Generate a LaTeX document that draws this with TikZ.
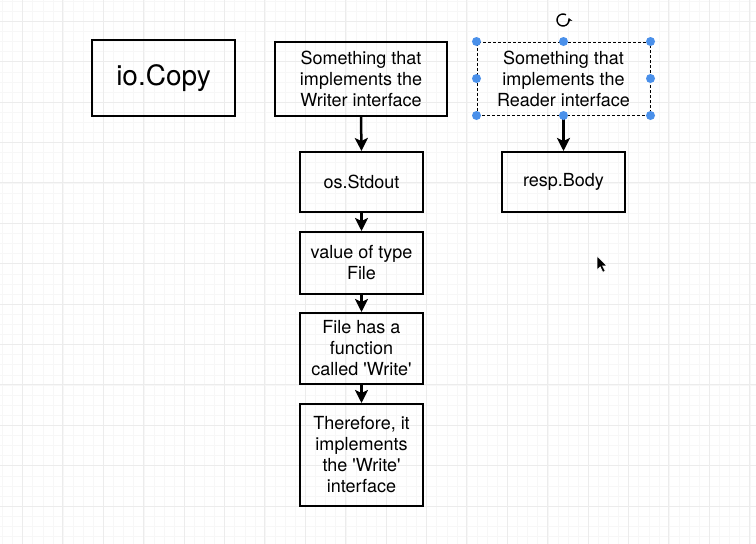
\documentclass[tikz,border=0pt]{standalone}
\usepackage{fontspec}
\setmainfont{TeX Gyre Heros}
\usetikzlibrary{arrows.meta}

\begin{document}
\begin{tikzpicture}[x=1pt,y=-1pt,
  box/.style={rectangle,
              draw,
              line width=2pt,
              align=center,
              inner sep=0pt,
              minimum width=123pt,
              font=\fontsize{18}{21}\selectfont},
  flow/.style={-{Stealth[length=13pt,width=13pt,inset=3pt]}, line width=2.5pt},
  handle/.style={circle, fill=handleblue, inner sep=0pt, minimum size=9pt}]
\definecolor{handleblue}{RGB}{74,144,234};
\definecolor{gridgray}{RGB}{236,236,236};
\useasboundingbox (0,0) rectangle (756,544);
\fill[white] (0,0) rectangle (756,544);
% background grid
\foreach \i in {0,...,74} \draw[gray!6, line width=0.4pt] (2.3+10.1*\i,0) -- (2.3+10.1*\i,544);
\foreach \j in {0,...,53} \draw[gray!6, line width=0.4pt] (0,1+10.1*\j) -- (756,1+10.1*\j);
\foreach \i in {0,...,18} \draw[gridgray, line width=1pt] (22.5+40.4*\i,0) -- (22.5+40.4*\i,544);
\foreach \j in {0,...,13} \draw[gridgray, line width=1pt] (0,21.2+40.4*\j) -- (756,21.2+40.4*\j);

\node [box,
       minimum width=143pt,
       minimum height=76pt,
       font=\fontsize{28}{32}\selectfont] (copy) at (163.5,78) {io.Copy};
\node [box,
       minimum width=172pt,
       minimum height=74pt] (writer) at (361,79) {Something that\\implements the\\Writer interface};
\node [box,
       minimum height=60pt] (stdout) at (361.5,182) {os.Stdout};
\node [box,
       minimum height=62pt] (filetype) at (361.5,263) {value of type\\File};
\node [box,
       minimum height=71pt] (hasfunc) at (361.5,348.5) {File has a\\function\\called \textquotesingle Write\textquotesingle};
\node [box,
       minimum height=102pt] (therefore) at (361.5,455) {Therefore, it\\implements\\the \textquotesingle Write\textquotesingle\\interface};
\node [box,
       line width=1pt,
       dash pattern=on 3pt off 2pt,
       minimum width=173pt,
       minimum height=73pt] (reader) at (563.5,78.5) {Something that\\implements the\\Reader interface};
\node [box,
       minimum height=60pt] (body) at (563.5,182) {resp.Body};

\draw[flow] (writer.south) to (stdout.north);
\draw[flow] (stdout.south) to (filetype.north);
\draw[flow] (filetype.south) to (hasfunc.north);
\draw[flow] (hasfunc.south) to (therefore.north);
\draw[flow] (reader.south) to (body.north);

% selection handles
\foreach \a in {north west,north,north east,west,east,south west,south,south east}
  \node[handle] at (reader.\a) {};
% rotate icon
\coordinate (rot) at (563,20);
\draw[line width=1.4pt, -{Stealth[length=4pt,width=5pt]}] ([shift={(rot)}]60:6pt) arc[start angle=60, end angle=380, radius=6pt];
% mouse pointer
\coordinate (tip) at (597,256);
\fill[black, draw=white, line width=0.6pt] (tip) -- ++(0,14) -- ++(3.2,-3.2) -- ++(2.6,5.4) -- ++(2.4,-1.1) -- ++(-2.6,-5.2) -- ++(4.4,0) -- cycle;
\end{tikzpicture}
\end{document}
